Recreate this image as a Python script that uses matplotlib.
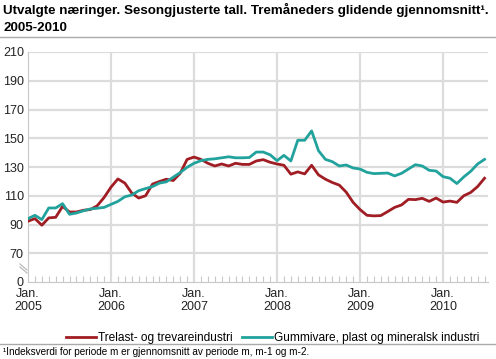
import matplotlib
matplotlib.use('Agg')
import matplotlib.pyplot as plt
import numpy as np

plt.rcParams['font.family'] = ['Liberation Sans', 'DejaVu Sans']

# monthly values, Jan 2005 - Jul 2010
trelast = [92.3, 94.1, 89.5, 94.6, 95.0, 102.6, 98.7, 98.7, 99.9, 100.4, 103.0, 108.8,
           116.0, 121.7, 118.8, 111.9, 108.4, 110.0, 118.1, 119.9, 121.5, 120.6, 125.6, 135.3,
           136.9, 135.3, 132.6, 130.7, 132.1, 130.7, 132.6, 131.8, 131.8, 134.2, 135.1, 133.3,
           132.1, 131.2, 125.0, 126.6, 125.2, 131.2, 124.5, 121.5, 119.2, 117.4, 112.5, 105.4,
           100.4, 96.4, 96.0, 96.2, 99.0, 101.9, 103.6, 107.5, 107.3, 108.2, 106.1, 108.4,
           105.6, 106.3, 105.4, 110.0, 112.3, 116.4, 122.2]
gummivare = [94.1, 96.4, 93.4, 101.5, 101.5, 104.5, 97.1, 98.0, 99.5, 100.8, 101.3, 101.9,
             104.0, 106.1, 109.3, 110.5, 113.5, 115.0, 116.4, 118.8, 119.7, 122.9, 126.1, 129.8,
             132.6, 134.4, 135.3, 135.7, 136.4, 137.1, 136.4, 136.4, 136.6, 140.4, 140.4, 138.5,
             134.4, 138.1, 134.2, 148.6, 148.6, 155.1, 141.3, 135.3, 133.7, 130.7, 131.4, 129.3,
             128.6, 126.3, 125.4, 125.6, 125.8, 123.8, 125.6, 128.6, 131.6, 130.7, 127.7, 127.2,
             123.3, 122.2, 118.5, 123.1, 127.0, 132.1, 135.3]
years = ['2005', '2006', '2007', '2008', '2009', '2010']
yticks = [50, 70, 90, 110, 130, 150, 170, 190, 210]
ylabels = ['0', '70', '90', '110', '130', '150', '170', '190', '210']

RED = '#a01d24'
TEAL = '#22a29c'
GRID = '#dcdcdc'

W, H = 496, 359
fig = plt.figure(figsize=(W / 100, H / 100), dpi=100)
ax = fig.add_axes([28 / W, 1 - 282 / H, 460 / W, 230 / H])

x = np.arange(len(trelast))
ax.plot(x, trelast, color=RED, lw=2, label='Trelast- og trevareindustri', zorder=3)
ax.plot(x, gummivare, color=TEAL, lw=2, label='Gummivare, plast og mineralsk industri', zorder=3)

ax.set_xlim(0, 66.5)
ax.set_ylim(50, 210)
ax.set_yticks(yticks)
ax.set_yticklabels(ylabels, fontsize=9, color='#222222')
ax.set_xticks([12 * i for i in range(len(years))])
ax.set_xticklabels(['Jan.\n' + y for y in years], fontsize=9, linespacing=1.05, color='#222222')
ax.set_xticks(np.arange(0, 67), minor=True)
ax.tick_params(axis='y', length=0, pad=3)
ax.tick_params(axis='x', which='major', length=0, pad=4.5)
ax.tick_params(axis='x', which='minor', direction='in', length=4, color='#c8c8c8', width=0.8)
ax.get_yticklabels()[0].set_va('center_baseline')

for v in yticks[1:]:
    ax.axhline(v, color=GRID, lw=1.6, zorder=1)
for i in range(1, len(years)):
    ax.axvline(12 * i, color=GRID, lw=1.6, zorder=1)

for s in ['top', 'right']:
    ax.spines[s].set_visible(False)
ax.spines['left'].set_color('#c8c8c8')
ax.spines['bottom'].set_color('#c8c8c8')

# axis break marks
for dy in (0, 3):
    fig.add_artist(plt.Line2D([20 / W, 27 / W], [1 - (264 + dy) / H, 1 - (270 + dy) / H],
                              color='#bbbbbb', lw=0.9))

fig.text(3 / W, 1 - 10 / H, 'Utvalgte næringer. Sesongjusterte tall. Tremåneders glidende gjennomsnitt¹.',
         fontsize=9.6, fontweight='bold', va='center', ha='left')
fig.text(3 / W, 1 - 28 / H, '2005-2010', fontsize=9.6, fontweight='bold', va='center', ha='left')
fig.add_artist(plt.Line2D([0, 1], [1 - 37 / H, 1 - 37 / H], color='#aaaaaa', lw=1))

fig.legend(loc='center', bbox_to_anchor=(0.55, 1 - 338 / H), ncol=2, frameon=False,
           fontsize=8.6, handlelength=2.5, handletextpad=0.15, columnspacing=0.8)
fig.add_artist(plt.Line2D([0, 1], [1 - 344 / H, 1 - 344 / H], color='#aaaaaa', lw=1))
fig.text(3 / W, 1 - 352 / H, '¹Indeksverdi for periode m er gjennomsnitt av periode m, m-1 og m-2.',
         fontsize=7.2, va='center', ha='left')

fig.savefig('out.png', dpi=100)
